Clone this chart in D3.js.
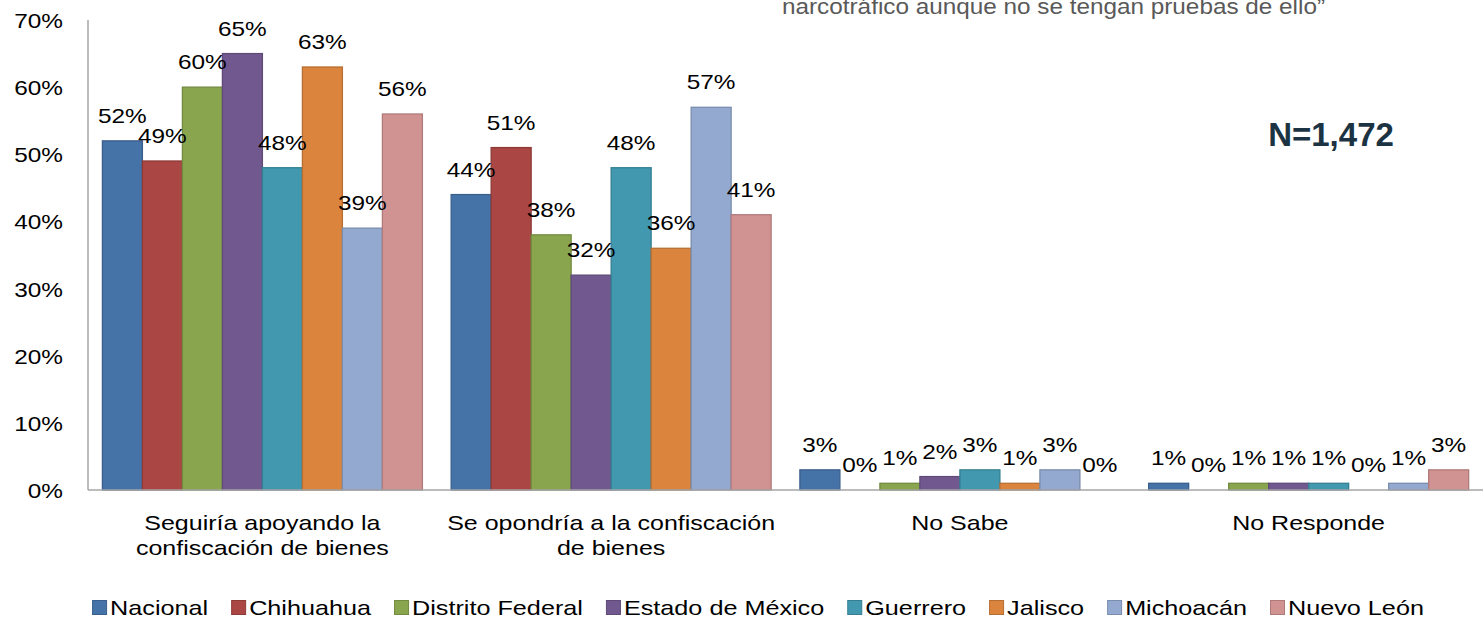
<!DOCTYPE html>
<html>
<head>
<meta charset="utf-8">
<script src="https://cdn.jsdelivr.net/npm/d3@7"></script>
<style>
  body { margin: 0; background: #fff; }
  text { font-family: "Liberation Sans", Arial, sans-serif; }
</style>
</head>
<body>
<script>
var width = 1484, height = 619

// data
var categories = ["Seguiría apoyando la confiscación de bienes", "Se opondría a la confiscación de bienes", "No Sabe", "No Responde"]
var categoryLines = [["Seguiría apoyando la", "confiscación de bienes"], ["Se opondría a la confiscación", "de bienes"], ["No Sabe"], ["No Responde"]]
var series = ["Nacional", "Chihuahua", "Distrito Federal", "Estado de México", "Guerrero", "Jalisco", "Michoacán", "Nuevo León"]
var nacional = [52, 44, 3, 1]
var chihuahua = [49, 51, 0, 0]
var distritoFederal = [60, 38, 1, 1]
var estadoMexico = [65, 32, 2, 1]
var guerrero = [48, 48, 3, 1]
var jalisco = [63, 36, 1, 0]
var michoacan = [39, 57, 3, 1]
var nuevoLeon = [56, 41, 0, 3]
var yTicks = [0, 10, 20, 30, 40, 50, 60, 70]

var values = [nacional, chihuahua, distritoFederal, estadoMexico, guerrero, jalisco, michoacan, nuevoLeon]
var colors = ["#4572A7", "#AA4643", "#89A54E", "#71588F", "#4198AF", "#DB843D", "#93A9CF", "#D19392"]

var svg = d3.select("body").append("svg")
  .attr("width", width)
  .attr("height", height)

// text in the picture is a little wider than Liberation Sans
function stretch(sel, k) {
  var total = 0
  sel.each(function() {
    var w = this.getComputedTextLength()
    total = w * k
    this.setAttribute("textLength", w * k)
    this.setAttribute("lengthAdjust", "spacingAndGlyphs")
  })
  return total
}

var x0 = d3.scaleBand().domain(categories).range([88, 1483])
var x1 = d3.scaleBand().domain(series).range([14.4, 334.4])
var y = d3.scaleLinear().domain([0, 70]).range([490, 20])
var color = d3.scaleOrdinal().domain(series).range(colors)

var rows = []
categories.forEach(function(c, ci) {
  series.forEach(function(s, si) {
    rows.push({ cat: c, ser: s, v: values[si][ci] })
  })
})

// bars
svg.append("g")
  .selectAll("rect")
  .data(rows)
  .enter().append("rect")
  .attr("x", function(d) { return x0(d.cat) + x1(d.ser) })
  .attr("y", function(d) { return y(d.v) })
  .attr("width", x1.bandwidth())
  .attr("height", function(d) { return y(0) - y(d.v) })
  .attr("fill", function(d) { return color(d.ser) })
  .attr("stroke", function(d) { return d3.color(color(d.ser)).darker(0.5) })
  .attr("stroke-width", 1.3)

// axes lines
svg.append("line")
  .attr("x1", 88).attr("x2", 88)
  .attr("y1", y(70)).attr("y2", y(0))
  .attr("stroke", "#a6a6a6").attr("stroke-width", 1.5)
svg.append("line")
  .attr("x1", 88).attr("x2", 1483)
  .attr("y1", y(0)).attr("y2", y(0))
  .attr("stroke", "#a6a6a6").attr("stroke-width", 1.5)

// y tick labels
var ticks = svg.append("g")
  .selectAll("text")
  .data(yTicks)
  .enter().append("text")
  .attr("x", 63)
  .attr("y", function(d) { return y(d) + 8 })
  .attr("text-anchor", "end")
  .attr("font-size", 21)
  .attr("fill", "#000")
  .text(function(d) { return d + "%" })
stretch(ticks, 1.16)

// value labels
var labels = svg.append("g")
  .selectAll("text")
  .data(rows)
  .enter().append("text")
  .attr("x", function(d) { return x0(d.cat) + x1(d.ser) + x1.bandwidth() / 2 })
  .attr("y", function(d) { return y(d.v) - 18 })
  .attr("text-anchor", "middle")
  .attr("font-size", 21)
  .attr("fill", "#000")
  .text(function(d) { return d.v + "%" })
stretch(labels, 1.16)

// category labels
categories.forEach(function(c, ci) {
  var t = svg.append("g").selectAll("text")
    .data(categoryLines[ci])
    .enter().append("text")
    .attr("x", x0(c) + x0.bandwidth() / 2)
    .attr("y", function(d, i) { return 530 + i * 25 })
    .attr("text-anchor", "middle")
    .attr("font-size", 21)
    .attr("fill", "#000")
    .text(function(d) { return d })
  stretch(t, 1.19)
})

// legend
var legend = svg.append("g")
var lx = 0
series.forEach(function(s) {
  var item = legend.append("g").attr("transform", "translate(" + lx + ",0)")
  item.append("rect")
    .attr("x", 0.5).attr("y", 600.5)
    .attr("width", 14).attr("height", 14)
    .attr("fill", color(s))
    .attr("stroke", d3.color(color(s)).darker(0.5))
  var t = item.append("text")
    .attr("x", 18).attr("y", 615)
    .attr("font-size", 21)
    .text(s)
  var w = stretch(t, 1.2)
  lx += 18 + w + 23
})
var legendW = lx - 23
legend.attr("transform", "translate(" + (758 - legendW / 2) + ",0)")

// title fragment cut at the top
svg.append("text")
  .attr("x", 782).attr("y", 14)
  .attr("font-family", "'Open Sans', sans-serif")
  .attr("font-size", 22)
  .attr("fill", "#595959")
  .attr("textLength", 543)
  .attr("lengthAdjust", "spacingAndGlyphs")
  .text("narcotráfico aunque no se tengan pruebas de ello”")

svg.append("text")
  .attr("x", 1331).attr("y", 146)
  .attr("text-anchor", "middle")
  .attr("font-family", "'Open Sans', sans-serif")
  .attr("font-weight", "bold")
  .attr("font-size", 33)
  .attr("fill", "#1B3342")
  .text("N=1,472")
</script>
</body>
</html>
